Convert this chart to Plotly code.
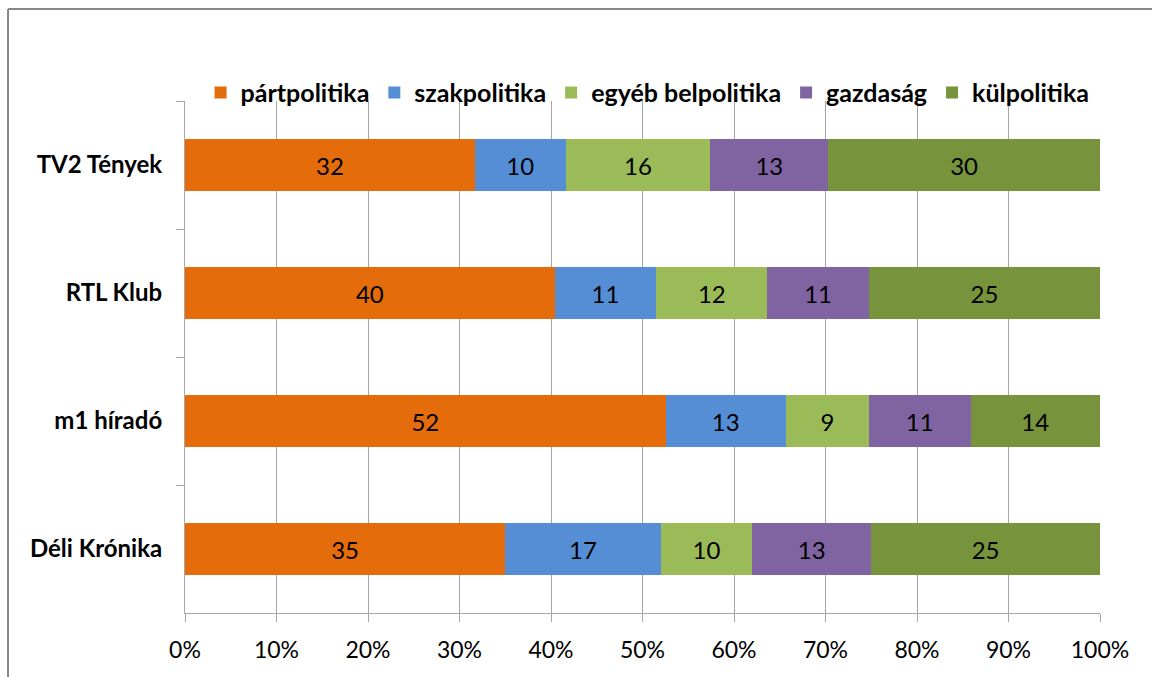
import plotly.graph_objects as go

# data (top to bottom as in the chart)
channels = ["TV2 Tények", "RTL Klub", "m1 híradó", "Déli Krónika"]
series_names = ["pártpolitika", "szakpolitika", "egyéb belpolitika", "gazdaság", "külpolitika"]
partpolitika = [32, 40, 52, 35]
szakpolitika = [10, 11, 13, 17]
egyeb_belpolitika = [16, 12, 9, 10]
gazdasag = [13, 11, 11, 13]
kulpolitika = [30, 25, 14, 25]
colors = ["#E46C0A", "#558ED5", "#9BBB59", "#8064A2", "#77933C"]

FONT = "Lato, 'Open Sans', sans-serif"

fig = go.Figure()
for name, vals, col in zip(series_names,
                           [partpolitika, szakpolitika, egyeb_belpolitika, gazdasag, kulpolitika],
                           colors):
    fig.add_trace(go.Bar(
        y=channels, x=vals, name=name, orientation="h",
        marker=dict(color=col, line=dict(width=0)),
        text=vals, texttemplate="%{text}", textposition="inside",
        insidetextanchor="middle", textangle=0,
        textfont=dict(size=24, color="black", family=FONT),
    ))

fig.update_layout(
    barmode="stack",
    barnorm="percent",
    bargap=0.59,
    width=1152, height=677,
    margin=dict(l=185, r=52, t=101, b=64),
    plot_bgcolor="white",
    paper_bgcolor="white",
    font=dict(family=FONT, size=23, color="black"),
    uniformtext=dict(minsize=24, mode="show"),
    legend=dict(
        orientation="h", x=0.017, xanchor="left", y=1.016, yanchor="middle",
        font=dict(size=25, family=FONT, weight="bold"),
        bgcolor="rgba(0,0,0,0)", itemwidth=30, traceorder="normal",
    ),
    showlegend=True,
)

fig.update_xaxes(
    range=[0, 100], tickvals=list(range(0, 101, 10)),
    ticktext=[f"{v}%" for v in range(0, 101, 10)],
    showgrid=True, gridcolor="#A6A6A6", gridwidth=1,
    showline=True, linecolor="#A6A6A6", linewidth=1,
    ticks="outside", ticklen=8, tickcolor="#A6A6A6", ticklabelstandoff=8,
    tickfont=dict(size=23), zeroline=False, fixedrange=True,
)
fig.update_yaxes(
    autorange="reversed", showgrid=False,
    showline=True, linecolor="#A6A6A6", linewidth=1,
    ticks="outside", ticklen=8, tickcolor="#A6A6A6", tickson="boundaries",
    tickfont=dict(size=24, weight="bold"), ticklabelstandoff=17,
)

# outer chart frame: only its left and top edges are inside the picture
frame = dict(color="#888888", width=2)
fig.add_shape(type="line", xref="paper", yref="paper",
              x0=-0.1934, x1=-0.1934, y0=-0.3, y1=1.1797, line=frame)
fig.add_shape(type="line", xref="paper", yref="paper",
              x0=-0.1934, x1=1.2, y0=1.1797, y1=1.1797, line=frame)

# drop the page's default body margin so the figure sits at the window origin
fig.write_html("out.html", config={"displayModeBar": False},
               post_script="document.body.style.margin='0';document.body.style.overflow='hidden';")
